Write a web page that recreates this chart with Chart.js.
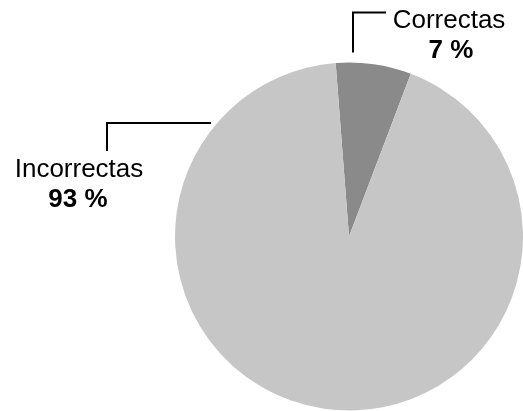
<!DOCTYPE html>
<html>
<head>
<meta charset="utf-8">
<script src="https://cdn.jsdelivr.net/npm/chart.js@4/dist/chart.umd.min.js"></script>
<style>
  html, body { margin: 0; padding: 0; background: #fff; }
  #chart { display: block; }
</style>
</head>
<body>
<canvas id="chart" width="523" height="411"></canvas>
<script>
const categories = ['Correctas', 'Incorrectas'];
const values = [7, 93];
const sliceColors = ['#8a8a8a', '#c6c6c6'];

// callout layout for each slice, offsets from the pie centre / edge
const callouts = [
  { tip: [4, -10], elbow: [4, -50], end: [37, -50], text: [100, -35], pct: [102, -5], horiz: false },
  { tip: [-138, -113.5], elbow: [-242, -113.5], end: [-242, -85.5], text: [-270, -59.5], pct: [-271, -29.5], horiz: true }
];

const calloutPlugin = {
  id: 'callouts',
  afterDatasetsDraw(chart) {
    const ctx = chart.ctx;
    const arc = chart.getDatasetMeta(0).data[0];
    const cx = arc.x, cy = arc.y, r = arc.outerRadius;
    ctx.save();
    ctx.strokeStyle = '#000';
    ctx.lineWidth = 2;
    ctx.fillStyle = '#000';
    ctx.textAlign = 'center';
    ctx.textBaseline = 'alphabetic';
    callouts.forEach((c, i) => {
      let tip, elbow, end;
      if (c.horiz) {
        tip = [cx + c.tip[0], cy + c.tip[1]];
        elbow = [cx + c.elbow[0], cy + c.elbow[1]];
        end = [cx + c.end[0], cy + c.end[1]];
      } else {
        tip = [cx + c.tip[0], cy - r + c.tip[1]];
        elbow = [cx + c.elbow[0], cy - r + c.elbow[1]];
        end = [cx + c.end[0], cy - r + c.end[1]];
      }
      ctx.beginPath();
      ctx.moveTo(tip[0], tip[1]);
      ctx.lineTo(elbow[0], elbow[1]);
      ctx.lineTo(end[0], end[1]);
      ctx.stroke();

      const baseY = c.horiz ? cy : cy - r;
      ctx.font = '26px "Liberation Sans", Arial, sans-serif';
      ctx.fillText(categories[i], cx + c.text[0], baseY + c.text[1]);
      ctx.font = 'bold 26px "Liberation Sans", Arial, sans-serif';
      ctx.fillText(values[i] + ' %', cx + c.pct[0], baseY + c.pct[1]);
    });
    ctx.restore();
  }
};

new Chart(document.getElementById('chart').getContext('2d'), {
  type: 'pie',
  data: {
    labels: categories,
    datasets: [{
      data: values,
      backgroundColor: sliceColors,
      borderWidth: 0
    }]
  },
  options: {
    responsive: false,
    animation: false,
    rotation: -4.4,
    layout: { padding: { left: 175, top: 62, right: 0, bottom: 0 } },
    plugins: {
      legend: { display: false },
      tooltip: { enabled: false }
    }
  },
  plugins: [calloutPlugin]
});
</script>
</body>
</html>
